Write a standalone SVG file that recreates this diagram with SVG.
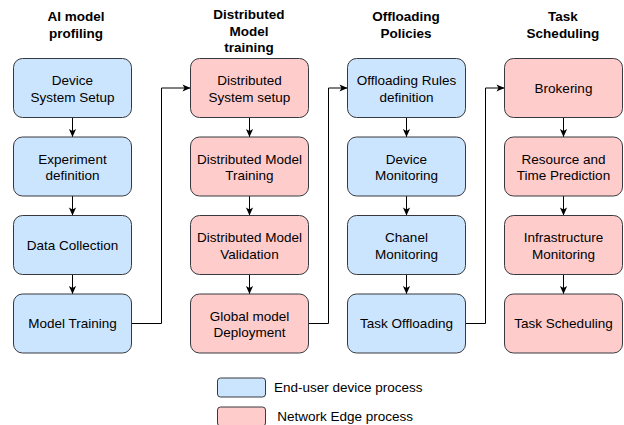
<svg xmlns="http://www.w3.org/2000/svg" width="624" height="425" viewBox="0 0 624 425">
<style>
text{font-family:"Liberation Sans",Arial,sans-serif;font-size:13.5px;fill:#000;text-anchor:middle}
.h{font-weight:bold}
.blue{fill:#cce5ff;stroke:#36393d;stroke-width:1}
.pink{fill:#ffcccc;stroke:#36393d;stroke-width:1}
.c{fill:none;stroke:#000;stroke-width:1}
.l{text-anchor:start}
</style>
<defs>
<marker id="a" markerUnits="userSpaceOnUse" markerWidth="10" markerHeight="10" viewBox="-1 -5 10 10" refX="8" refY="0" orient="auto">
<path d="M0,-3.6 L8,0 L0,3.6 L2,0 z" fill="#000"/>
</marker>
</defs>
<rect width="624" height="425" fill="#fff"/>
<g id="headers">
<text class="h" x="76" y="21">AI model</text>
<text class="h" x="76" y="38">profiling</text>
<text class="h" x="249" y="19">Distributed</text>
<text class="h" x="249" y="35.5">Model</text>
<text class="h" x="249" y="52">training</text>
<text class="h" x="406" y="20.7">Offloading</text>
<text class="h" x="406" y="37.5">Policies</text>
<text class="h" x="563" y="20.7">Task</text>
<text class="h" x="563" y="37.5">Scheduling</text>
</g>
<g id="connectors">
<line class="c" x1="72.5" y1="117.5" x2="72.5" y2="137" marker-end="url(#a)"/>
<line class="c" x1="72.5" y1="196" x2="72.5" y2="215.5" marker-end="url(#a)"/>
<line class="c" x1="72.5" y1="274.5" x2="72.5" y2="294" marker-end="url(#a)"/>
<line class="c" x1="249.5" y1="117.5" x2="249.5" y2="137" marker-end="url(#a)"/>
<line class="c" x1="249.5" y1="196" x2="249.5" y2="215.5" marker-end="url(#a)"/>
<line class="c" x1="249.5" y1="274.5" x2="249.5" y2="294" marker-end="url(#a)"/>
<line class="c" x1="406.5" y1="117.5" x2="406.5" y2="137" marker-end="url(#a)"/>
<line class="c" x1="406.5" y1="196" x2="406.5" y2="215.5" marker-end="url(#a)"/>
<line class="c" x1="406.5" y1="274.5" x2="406.5" y2="294" marker-end="url(#a)"/>
<line class="c" x1="563.5" y1="117.5" x2="563.5" y2="137" marker-end="url(#a)"/>
<line class="c" x1="563.5" y1="196" x2="563.5" y2="215.5" marker-end="url(#a)"/>
<line class="c" x1="563.5" y1="274.5" x2="563.5" y2="294" marker-end="url(#a)"/>
<path class="c" d="M131.5,323.5 H161.5 V88 H190.5" marker-end="url(#a)"/>
<path class="c" d="M308.5,323.5 H328.5 V88 H347.5" marker-end="url(#a)"/>
<path class="c" d="M465.5,323.5 H485.5 V88 H504.5" marker-end="url(#a)"/>
</g>
<g id="n1"><rect class="blue" x="13.5" y="58.5" width="118" height="59" rx="9"/><text x="72.5" y="85">Device</text><text x="72.5" y="101.5">System Setup</text></g>
<g id="n2"><rect class="blue" x="13.5" y="137" width="118" height="59" rx="9"/><text x="72.5" y="163.5">Experiment</text><text x="72.5" y="180">definition</text></g>
<g id="n3"><rect class="blue" x="13.5" y="215.5" width="118" height="59" rx="9"/><text x="72.5" y="249.8">Data Collection</text></g>
<g id="n4"><rect class="blue" x="13.5" y="294" width="118" height="59" rx="9"/><text x="72.5" y="328.3">Model Training</text></g>
<g id="n5"><rect class="pink" x="190.5" y="58.5" width="118" height="59" rx="9"/><text x="249.5" y="85">Distributed</text><text x="249.5" y="101.5">System setup</text></g>
<g id="n6"><rect class="pink" x="190.5" y="137" width="118" height="59" rx="9"/><text x="249.5" y="163.5">Distributed Model</text><text x="249.5" y="180">Training</text></g>
<g id="n7"><rect class="pink" x="190.5" y="215.5" width="118" height="59" rx="9"/><text x="249.5" y="242">Distributed Model</text><text x="249.5" y="258.5">Validation</text></g>
<g id="n8"><rect class="pink" x="190.5" y="294" width="118" height="59" rx="9"/><text x="249.5" y="320.5">Global model</text><text x="249.5" y="337">Deployment</text></g>
<g id="n9"><rect class="blue" x="347.5" y="58.5" width="118" height="59" rx="9"/><text x="406.5" y="85">Offloading Rules</text><text x="406.5" y="101.5">definition</text></g>
<g id="n10"><rect class="blue" x="347.5" y="137" width="118" height="59" rx="9"/><text x="406.5" y="163.5">Device</text><text x="406.5" y="180">Monitoring</text></g>
<g id="n11"><rect class="blue" x="347.5" y="215.5" width="118" height="59" rx="9"/><text x="406.5" y="242">Chanel</text><text x="406.5" y="258.5">Monitoring</text></g>
<g id="n12"><rect class="blue" x="347.5" y="294" width="118" height="59" rx="9"/><text x="406.5" y="328.3">Task Offloading</text></g>
<g id="n13"><rect class="pink" x="504.5" y="58.5" width="118" height="59" rx="9"/><text x="563.5" y="92.8">Brokering</text></g>
<g id="n14"><rect class="pink" x="504.5" y="137" width="118" height="59" rx="9"/><text x="563.5" y="163.5">Resource and</text><text x="563.5" y="180">Time Prediction</text></g>
<g id="n15"><rect class="pink" x="504.5" y="215.5" width="118" height="59" rx="9"/><text x="563.5" y="242">Infrastructure</text><text x="563.5" y="258.5">Monitoring</text></g>
<g id="n16"><rect class="pink" x="504.5" y="294" width="118" height="59" rx="9"/><text x="563.5" y="328.3">Task Scheduling</text></g>
<g id="legend">
<rect class="blue" x="217.5" y="378" width="48" height="19" rx="3"/>
<text class="l" x="274" y="392">End-user device process</text>
<rect class="pink" x="217.5" y="407" width="48" height="19" rx="3"/>
<text class="l" x="277.3" y="420.5">Network Edge process</text>
</g>
</svg>
